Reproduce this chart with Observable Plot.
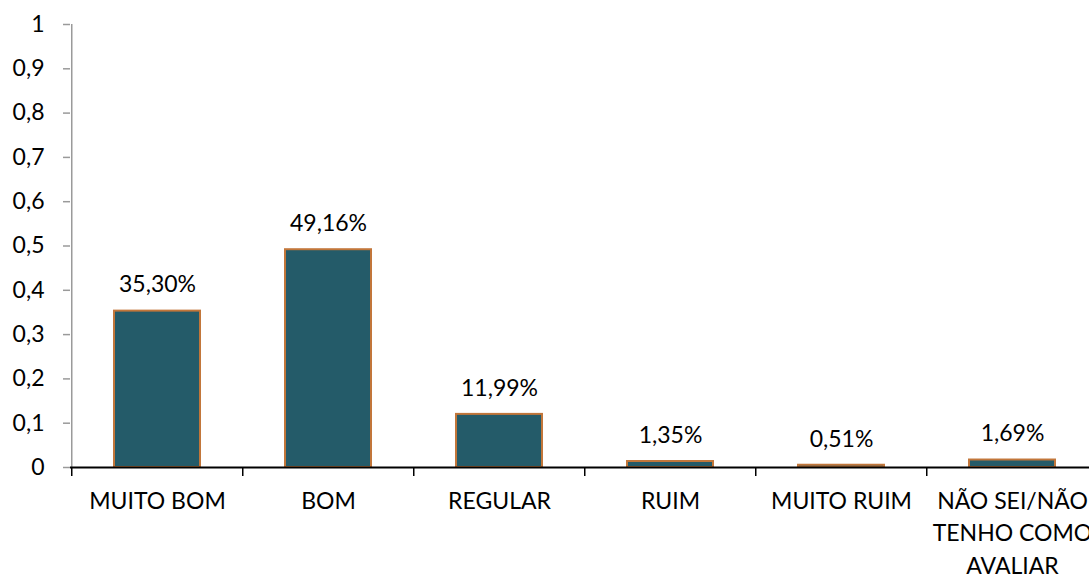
<!DOCTYPE html>
<html>
<head>
<meta charset="utf-8">
<script src="https://cdn.jsdelivr.net/npm/d3@7"></script>
<script src="https://cdn.jsdelivr.net/npm/@observablehq/plot@0.6"></script>
<style>
  html, body { margin: 0; padding: 0; background: #fff; overflow: hidden; }
</style>
</head>
<body>
<div id="chart"></div>
<script>
const categories = ["MUITO BOM", "BOM", "REGULAR", "RUIM", "MUITO RUIM", "NÃO SEI/NÃO TENHO COMO AVALIAR"];
const tickLabels = ["MUITO BOM", "BOM", "REGULAR", "RUIM", "MUITO RUIM", "NÃO SEI/NÃO\nTENHO COMO\nAVALIAR"];
const values = [0.3530, 0.4916, 0.1199, 0.0135, 0.0051, 0.0169];
const yTicks = [0, 0.1, 0.2, 0.3, 0.4, 0.5, 0.6, 0.7, 0.8, 0.9, 1];

const data = categories.map((c, i) => ({cat: c, label: tickLabels[i], value: values[i]}));

const width = 1089, height = 577;
const xRange = [70, 1099];
const band = (xRange[1] - xRange[0]) / categories.length;
const font = "Lato, 'Open Sans', sans-serif";
const fs = 23;
const fmtPct = v => (v * 100).toFixed(2).replace(".", ",") + "%";
const fmtTick = v => String(+v.toFixed(1)).replace(".", ",");

const plot = Plot.plot({
  width, height,
  marginLeft: 70, marginTop: 24, marginBottom: 110, marginRight: 0,
  style: {fontFamily: font, fontSize: fs + "px", color: "#000", background: "#fff", overflow: "visible"},
  x: {domain: categories, range: xRange, paddingInner: 0.5, paddingOuter: 0.25, axis: null},
  y: {domain: [0, 1], axis: null},
  marks: [
    // gray y-axis line
    Plot.ruleX([categories[0]], {x: d => d, dx: -band / 2, y1: 0, y2: 1, stroke: "#9a9a9a", strokeWidth: 1.5}),
    // y axis ticks and labels
    Plot.axisY(yTicks, {anchor: "left", label: null, tickSize: 7, tickPadding: 19, tickFormat: fmtTick, stroke: "#9a9a9a", strokeWidth: 1.5, fill: "#000", fontSize: fs}),
    // bars
    Plot.barY(data, {x: "cat", y: "value", fill: "#245B69", stroke: "#C2763A", strokeWidth: 2}),
    // x axis line
    Plot.ruleY([0], {stroke: "#000", strokeWidth: 2}),
    // category boundary ticks
    Plot.ruleX(categories, {x: d => d, dx: -band / 2, y1: 0, y2: 0, insetBottom: -9, stroke: "#000", strokeWidth: 1.5}),
    // value labels
    Plot.text(data, {x: "cat", y: "value", text: d => fmtPct(d.value), dy: -26, fontSize: fs, fill: "#000"}),
    // category labels
    Plot.text(data, {x: "cat", y: () => 0, text: "label", dy: 18, lineAnchor: "top", lineHeight: 1.42, fontSize: fs, fill: "#000"})
  ]
});
document.getElementById("chart").appendChild(plot);
</script>
</body>
</html>
